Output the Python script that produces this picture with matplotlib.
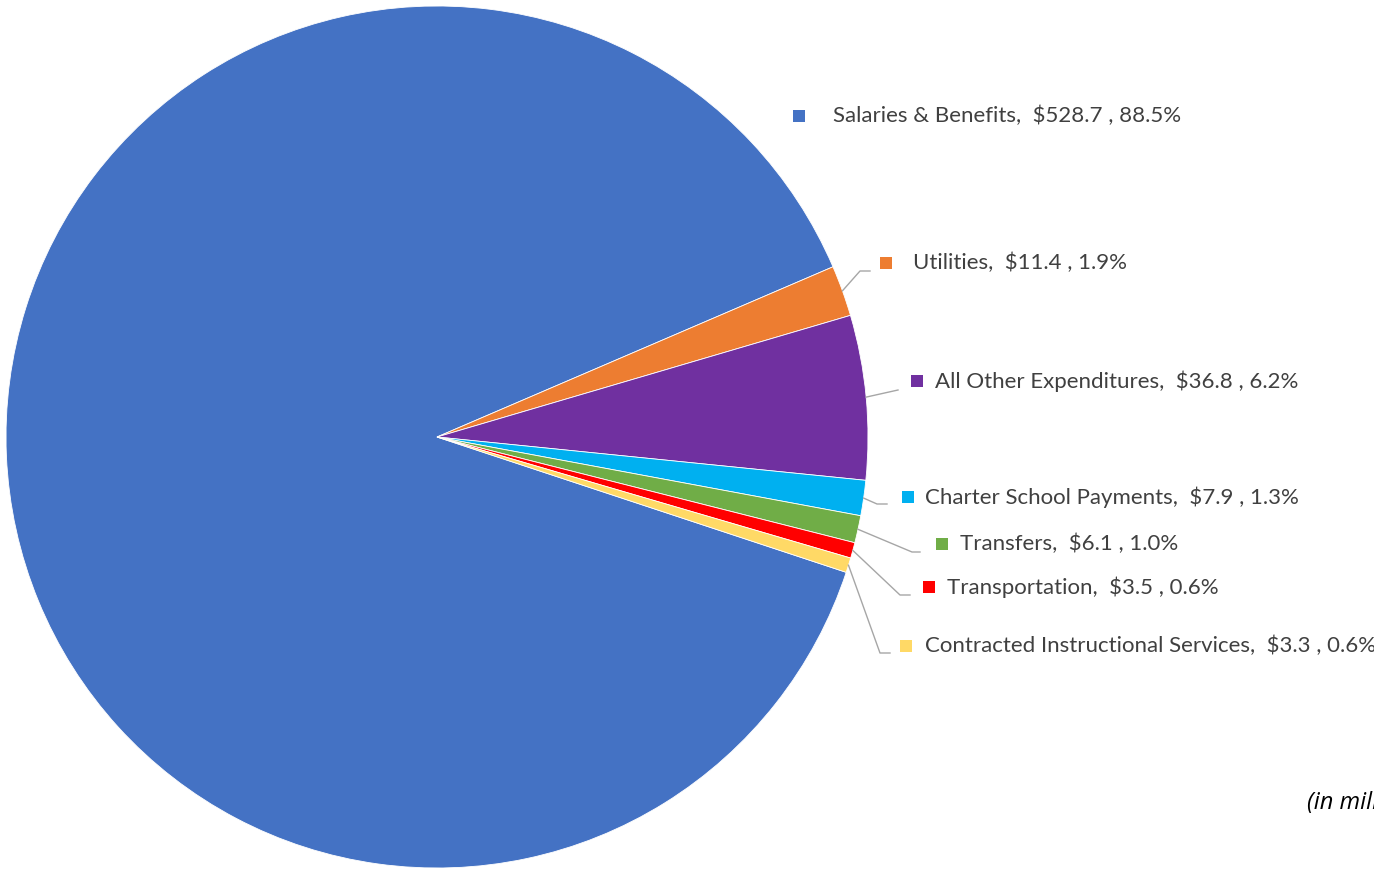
import matplotlib
matplotlib.use("Agg")
import matplotlib.pyplot as plt
import numpy as np

categories = ["Salaries & Benefits", "Utilities", "All Other Expenditures",
              "Charter School Payments", "Transfers", "Transportation",
              "Contracted Instructional Services"]
values = [528.7, 11.4, 36.8, 7.9, 6.1, 3.5, 3.3]
percent_labels = ["88.5%", "1.9%", "6.2%", "1.3%", "1.0%", "0.6%", "0.6%"]
colors = ["#4472C4", "#ED7D31", "#7030A0", "#00B0F0", "#70AD47", "#FF0000", "#FFD966"]
note = "(in millions)"

W, H = 1374, 869
fig = plt.figure(figsize=(W / 100, H / 100), dpi=100)
ax = fig.add_axes([0, 0, 1, 1])

def py(y):  # pixel-from-top to data y
    return H - y

cx, cy, R = 437, py(437), 431
wedges, _ = ax.pie(values, colors=colors, startangle=-18.3, counterclock=False,
                   center=(cx, cy), radius=R, frame=True,
                   wedgeprops=dict(edgecolor="white", linewidth=0.6))
ax.set_xlim(0, W)
ax.set_ylim(0, H)
ax.set_aspect("equal")
ax.axis("off")

# label layout: (marker x, text x, y from top, elbow point, end x)
layout = [
    (799, 833, 116, None, None),
    (886, 913, 263, (860, 271), 870),
    (917, 935, 381, (898, 390), 898),
    (908, 925, 497, (877, 504), 887),
    (942, 960, 544, (912, 552), 920),
    (929, 947, 587, (900, 595), 910),
    (906, 925, 646, (880, 653), 890),
]

font = dict(family=["Lato", "DejaVu Sans"], size=16, color="#404040")
for i, (w, (mx, tx, ty, elbow, ex)) in enumerate(zip(wedges, layout)):
    ax.scatter([mx], [py(ty)], marker="s", s=75, color=colors[i], linewidths=0, zorder=5)
    ax.text(tx, py(ty), f"{categories[i]},  ${values[i]:.1f} , {percent_labels[i]}",
            ha="left", va="center", **font)
    if elbow is not None:
        mid = np.deg2rad((w.theta1 + w.theta2) / 2)
        sx = cx + R * np.cos(mid)
        sy = cy + R * np.sin(mid)
        ax.plot([sx, elbow[0], ex], [sy, py(elbow[1]), py(elbow[1])],
                color="#A6A6A6", lw=1.0, zorder=4)

ax.text(1307, py(803), note, ha="left", va="center", style="italic",
        family=["Open Sans", "DejaVu Sans"], size=17, color="black")

fig.savefig("out.png", dpi=100)
